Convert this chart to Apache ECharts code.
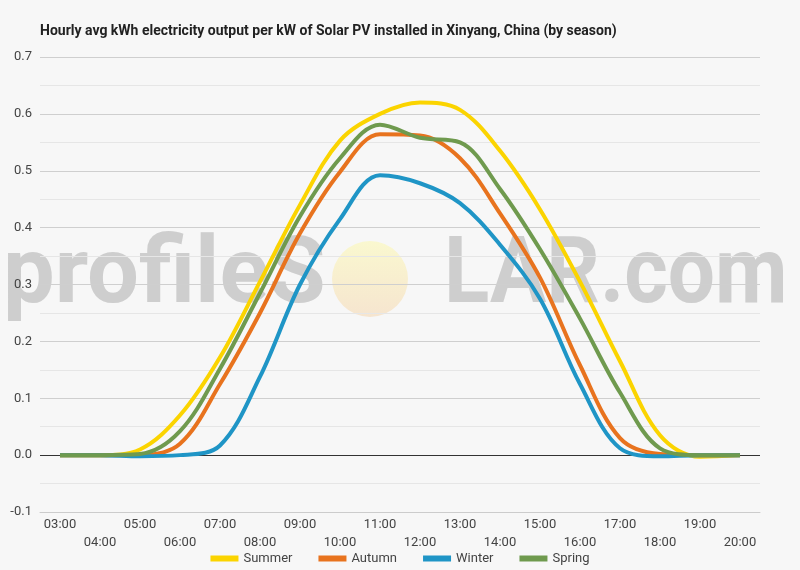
<!DOCTYPE html>
<html>
<head>
<meta charset="utf-8">
<script src="https://cdn.jsdelivr.net/npm/echarts@6/dist/echarts.min.js"></script>
<style>
    html, body { margin: 0; padding: 0; background: #f7f7f7; }
    #chart { width: 800px; height: 570px; }
</style>
</head>
<body>
<div id="chart"></div>
<script>
// hourly values
const hours = ['03:00', '04:00', '05:00', '06:00', '07:00', '08:00', '09:00', '10:00', '11:00',
    '12:00', '13:00', '14:00', '15:00', '16:00', '17:00', '18:00', '19:00', '20:00'];
const summer = [0, 0, 0.01, 0.07, 0.172, 0.305, 0.44, 0.553, 0.6, 0.62, 0.607, 0.535, 0.432, 0.305, 0.165, 0.035, -0.003, 0];
const autumn = [0, 0, 0, 0.02, 0.125, 0.25, 0.39, 0.498, 0.564, 0.562, 0.522, 0.425, 0.312, 0.158, 0.03, 0.002, 0, 0];
const winter = [0, 0, -0.002, 0, 0.017, 0.138, 0.3, 0.415, 0.492, 0.478, 0.443, 0.37, 0.275, 0.125, 0.012, -0.002, 0, 0];
const spring = [0, 0, 0.002, 0.042, 0.152, 0.285, 0.42, 0.522, 0.581, 0.558, 0.55, 0.468, 0.362, 0.24, 0.11, 0.012, 0, 0];
const seasonNames = ['Summer', 'Autumn', 'Winter', 'Spring'];
const seasonColors = ['#fbd400', '#e8731e', '#1f95c6', '#6f9a4e'];

let chart = echarts.init(document.getElementById('chart'));

let makeSeries = (name, data, color, idx) => {
    let s = {
        name: name,
        type: 'line',
        data: data,
        smooth: 0.35,
        symbol: 'none',
        lineStyle: {width: 4, color: color},
        itemStyle: {color: color},
        z: 3
    };
    if (idx === 0) {
        // dark zero line
        s.markLine = {
            silent: true,
            symbol: 'none',
            label: {show: false},
            lineStyle: {color: '#333', width: 1, type: 'solid'},
            data: [{yAxis: 0}],
            z: 1
        };
    }
    return s;
};

let option = {
    backgroundColor: '#f7f7f7',
    animation: false,
    textStyle: {fontFamily: 'Roboto'},
    title: {
        text: 'Hourly avg kWh electricity output per kW of Solar PV installed in Xinyang, China (by season)',
        left: 35,
        top: 19,
        textStyle: {fontSize: 14, fontWeight: 'bold', color: '#222', fontFamily: 'Roboto'}
    },
    graphic: [
        {
            type: 'circle',
            z: -10,
            shape: {cx: 370, cy: 279, r: 38},
            style: {
                fill: new echarts.graphic.LinearGradient(0, 0, 0, 1, [
                    {offset: 0, color: 'rgba(250,248,205,0.95)'},
                    {offset: 1, color: 'rgba(246,228,205,0.95)'}
                ])
            }
        },
        {
            type: 'text',
            z: -10,
            x: 3,
            y: 233,
            style: {text: 'profileS', font: 'bold 92px Roboto', fill: 'rgba(190,190,190,0.72)', verticalAlign: 'top'}
        },
        {
            type: 'text',
            z: -10,
            x: 444,
            y: 233,
            scaleX: 0.91,
            style: {text: 'LAR.com', font: 'bold 92px Roboto', fill: 'rgba(190,190,190,0.72)', verticalAlign: 'top'}
        }
    ],
    legend: {
        data: seasonNames,
        bottom: 0,
        left: 'center',
        icon: 'rect',
        itemWidth: 28,
        itemHeight: 6,
        itemGap: 26,
        textStyle: {fontSize: 13, color: '#444'}
    },
    grid: {left: 40, right: 40, top: 57, bottom: 58},
    xAxis: {
        type: 'category',
        data: hours,
        boundaryGap: true,
        axisLine: {onZero: false, lineStyle: {color: '#ccc'}},
        axisTick: {show: false},
        axisLabel: {
            interval: 0,
            margin: 4,
            fontSize: 13,
            color: '#444',
            lineHeight: 18,
            formatter: (v, i) => (i % 2 === 1 ? '\n' + v : v)
        }
    },
    yAxis: {
        type: 'value',
        min: -0.1,
        max: 0.7,
        interval: 0.1,
        axisLine: {show: false},
        axisTick: {show: false},
        axisLabel: {
            fontSize: 13,
            color: '#444',
            margin: 8,
            formatter: v => v.toFixed(1)
        },
        splitLine: {lineStyle: {color: '#cfcfcf'}},
        minorTick: {show: false, splitNumber: 2},
        minorSplitLine: {show: true, lineStyle: {color: '#e6e6e6'}}
    },
    series: [
        makeSeries(seasonNames[0], summer, seasonColors[0], 0),
        makeSeries(seasonNames[1], autumn, seasonColors[1], 1),
        makeSeries(seasonNames[2], winter, seasonColors[2], 2),
        makeSeries(seasonNames[3], spring, seasonColors[3], 3)
    ]
};

chart.setOption(option);
</script>
</body>
</html>
